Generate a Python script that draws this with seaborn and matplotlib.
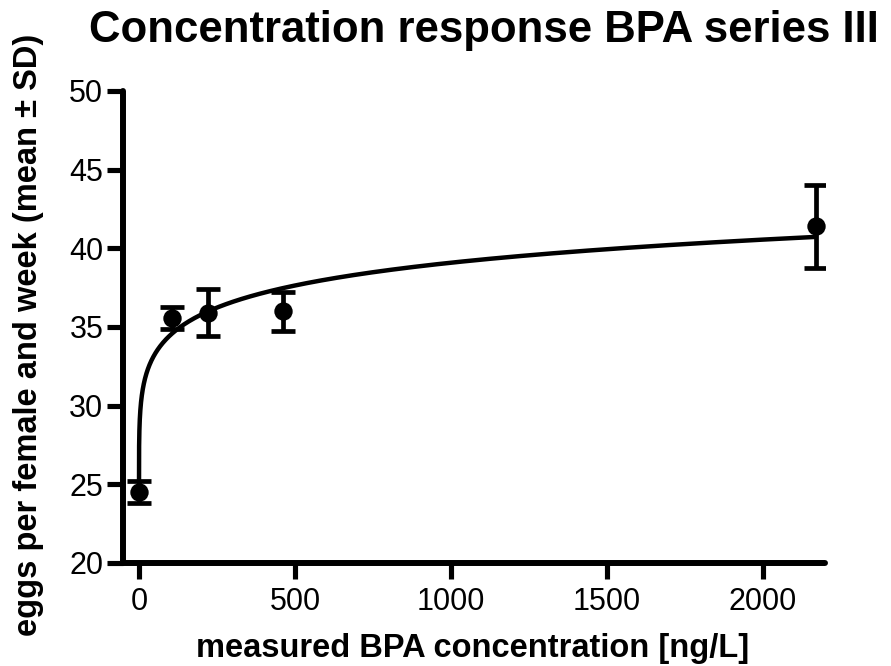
import numpy as np
import pandas as pd
import matplotlib
matplotlib.use("Agg")
import matplotlib.pyplot as plt
import seaborn as sns

# ---- data ----
concentration = [0, 106, 222, 462, 2170]        # measured BPA [ng/L]
egg_mean = [24.5, 35.6, 35.9, 36.0, 41.4]       # eggs per female and week
egg_sd = [0.7, 0.7, 1.5, 1.25, 2.65]

# fitted curve parameters (sigmoidal fit, as drawn in the reference)
fit_bottom = 24.5
fit_top = 55.92
fit_ec50 = 1700.0
fit_hill = 0.27

x_ticks = [0, 500, 1000, 1500, 2000]
y_ticks = [20, 25, 30, 35, 40, 45, 50]

title = "Concentration response BPA series III"
x_label = "measured BPA concentration [ng/L]"
y_label = "eggs per female and week (mean \u00b1 SD)"

# ---- style ----
sns.set_theme(style="ticks")
plt.rcParams["font.family"] = ["Liberation Sans", "DejaVu Sans"]

df = pd.DataFrame({"conc": concentration, "mean": egg_mean, "sd": egg_sd})

xfit = np.concatenate([[0.0], np.geomspace(0.01, max(concentration), 600)])
u = (xfit / fit_ec50) ** fit_hill
yfit = fit_bottom + (fit_top - fit_bottom) * u / (1 + u)
fit_df = pd.DataFrame({"conc": xfit, "eggs": yfit})

fig = plt.figure(figsize=(8.91, 6.66), dpi=100)
ax = fig.add_axes([123.4 / 891, 103 / 666, (825.4 - 123.4) / 891, (563 - 91) / 666])

sns.lineplot(data=fit_df, x="conc", y="eggs", ax=ax, color="black",
             linewidth=3.2, zorder=2, legend=False)
ax.errorbar(df["conc"], df["mean"], yerr=df["sd"], fmt="none",
            ecolor="black", elinewidth=3.4, capsize=8.7, capthick=3.4, zorder=3)
sns.scatterplot(data=df, x="conc", y="mean", ax=ax, color="black", s=175,
                edgecolor="black", linewidth=0, zorder=4, legend=False, clip_on=False)

ax.set_xlim(-50, 2200)
ax.set_ylim(20, 50)
ax.set_xticks(x_ticks)
ax.set_yticks(y_ticks)
ax.set_xlabel("")
ax.set_ylabel("")

for side in ["top", "right"]:
    ax.spines[side].set_visible(False)
for side in ["left", "bottom"]:
    ax.spines[side].set_linewidth(4.3)
    ax.spines[side].set_color("black")
    ax.spines[side].set_capstyle("round")

ax.tick_params(axis="both", length=11.5, width=3.7, color="black",
               labelsize=22, labelcolor="black")
ax.tick_params(axis="x", pad=6)
ax.tick_params(axis="y", pad=3)
for t in ax.xaxis.get_major_ticks() + ax.yaxis.get_major_ticks():
    t.tick1line.set_solid_capstyle("round")
ax.grid(False)
ax.set_facecolor("white")
fig.patch.set_facecolor("white")

fig.text(484 / 891, (666 - 42) / 666, title, ha="center", va="baseline",
         fontsize=31.5, fontweight="bold", color="black")
fig.text(473 / 891, 9 / 666, x_label, ha="center", va="baseline",
         fontsize=23.5, fontweight="bold", color="black")
fig.text(29 / 891, 0.497, y_label, ha="center", va="center", rotation=90,
         fontsize=23.5, fontweight="bold", color="black")

fig.savefig("out.png", dpi=100, facecolor="white")
